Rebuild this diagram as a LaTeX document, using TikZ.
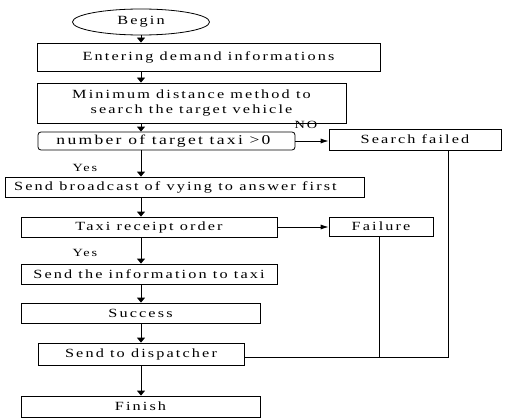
\documentclass[tikz,border=0pt]{standalone}
\usepackage{fontspec}
\setmainfont{Liberation Serif}[LetterSpace=17, FakeStretch=1.3]
\usetikzlibrary{shapes.geometric,arrows.meta}
\tikzset{
  box/.style={draw=black, line width=0.8pt, rectangle, inner sep=0pt, align=center, font=\fontsize{12.5}{15}\selectfont},
  lbl/.style={inner sep=0pt, font=\fontsize{11}{12}\selectfont},
  flow/.style={line width=0.8pt, -{Triangle[length=5pt,width=8pt]}},
  side/.style={line width=0.8pt, -{Latex[length=8pt,width=5pt]}},
  plain/.style={line width=0.8pt},
}
\begin{document}
\begin{tikzpicture}[x=1pt,y=-1pt]
\useasboundingbox (0,0) rectangle (506,420);
\node[box, ellipse, minimum width=137pt, minimum height=26pt] (begin) at (141,22) {Begin};
\node[box, minimum width=343pt, minimum height=28pt] (enter) at (208.5,57) {Entering demand informations};
\node[box, minimum width=309pt, minimum height=40pt] (mind) at (191.5,103) {Minimum distance method to\\search the target vehicle};
\node[box, rounded corners=3pt, minimum width=257pt, minimum height=18pt, font=\fontsize{13.5}{15}\selectfont] (num) at (166.5,141) {number of target taxi >0\kern6pt};
\node[box, minimum width=172pt, minimum height=21pt] (sfail) at (415,139.5) {Search failed};
\node[box, minimum width=359pt, minimum height=20pt] (bcast) at (184.5,187) {Send broadcast of vying to answer first\kern18pt};
\node[box, minimum width=256pt, minimum height=20pt] (receipt) at (149,227) {Taxi receipt order};
\node[box, minimum width=104pt, minimum height=19pt] (failure) at (381,226.5) {Failure};
\node[box, minimum width=256pt, minimum height=20pt] (sendinfo) at (149,274) {Send the information to taxi};
\node[box, minimum width=239pt, minimum height=20pt] (success) at (140.5,313) {Success};
\node[box, minimum width=206pt, minimum height=22pt] (disp) at (141,354) {Send to dispatcher};
\node[box, minimum width=239pt, minimum height=21pt] (finish) at (140.5,406.5) {Finish};
\node[lbl] (no) at (306,125) {NO};
\node[lbl] (yes1) at (85,168) {Yes};
\node[lbl] (yes2) at (85,253) {Yes};
\draw[flow] (begin.south -| 141,0) -- (enter.north -| 141,0);
\draw[flow] (enter.south -| 141,0) -- (mind.north -| 141,0);
\draw[flow] (mind.south -| 141,0) -- (num.north -| 141,0);
\draw[flow] (num.south -| 141,0) -- (bcast.north -| 141,0);
\draw[flow] (bcast.south -| 141,0) -- (receipt.north -| 141,0);
\draw[flow] (receipt.south -| 141,0) -- (sendinfo.north -| 141,0);
\draw[flow] (sendinfo.south -| 141,0) -- (success.north -| 141,0);
\draw[flow] (success.south -| 141,0) -- (disp.north -| 141,0);
\draw[flow] (disp.south -| 141,0) -- (finish.north -| 141,0);
\draw[side] (num.east) -- (sfail.west |- num.east);
\draw[side] (receipt.east) -- (failure.west |- receipt.east);
\draw[plain] ([xshift=-2pt]failure.south) |- ([yshift=-3pt]disp.east);
\draw[plain] ([xshift=33pt]sfail.south) |- ([yshift=-3pt]disp.east);
\end{tikzpicture}
\end{document}
